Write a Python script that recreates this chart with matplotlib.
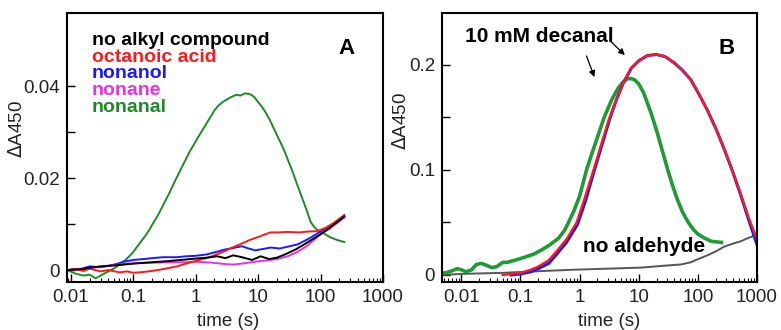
import numpy as np
import matplotlib
matplotlib.use("Agg")
import matplotlib.pyplot as plt
from matplotlib.ticker import LogLocator, NullFormatter, FixedLocator

plt.rcParams["font.family"] = ["Liberation Sans", "DejaVu Sans"]

# ---- panel A data (time in s, dA450) ----
t_green_a = [0.0088, 0.012, 0.016, 0.02, 0.025, 0.03, 0.04, 0.05, 0.056, 0.065, 0.075, 0.085,
             0.097, 0.11, 0.13, 0.155, 0.18, 0.21, 0.25, 0.29, 0.33, 0.39, 0.45, 0.52, 0.6,
             0.7, 0.8, 0.95, 1.1, 1.3, 1.5, 1.75, 2.0, 2.3, 2.7, 3.2, 3.7, 4.5, 5.2, 6.2, 7.5,
             8.7, 10, 11.5, 13, 15.5, 18.5, 21, 24, 27, 30, 35, 40, 45, 50, 55, 60, 65, 70, 80,
             90, 100, 115, 140, 180, 240]
v_green_a = [0.0, -0.0008, -0.0012, -0.0010, -0.0018, -0.0012, -0.0003, 0.0004, 0.0009,
             0.0016, 0.0022, 0.0029, 0.0037, 0.0047, 0.0060, 0.0074, 0.0087, 0.0103, 0.0120,
             0.0137, 0.0152, 0.0171, 0.0190, 0.0207, 0.0224, 0.0242, 0.0258, 0.0275, 0.0290,
             0.0306, 0.0320, 0.0335, 0.0348, 0.0358, 0.0366, 0.0372, 0.0377, 0.0382, 0.0380,
             0.0385, 0.0383, 0.0377, 0.0366, 0.0356, 0.0345, 0.0326, 0.0304, 0.0288, 0.0272,
             0.0256, 0.0240, 0.0217, 0.0195, 0.0176, 0.0159, 0.0144, 0.0130, 0.0116, 0.0104,
             0.0093, 0.0087, 0.0083, 0.0079, 0.0072, 0.0066, 0.0061]

t_red_a = [0.0088, 0.012, 0.016, 0.02, 0.03, 0.04, 0.06, 0.08, 0.1, 0.15, 0.2, 0.3, 0.5, 0.7,
           1.0, 1.5, 2.0, 3.0, 4.0, 5.5, 7.5, 10, 13, 16, 20, 30, 45, 65, 90, 120, 160, 200, 240]
v_red_a = [0.0000, 0.0002, -0.0002, 0.0003, -0.0003, 0.0000, -0.0005, -0.0003, -0.0006, -0.0004,
           -0.0002, 0.0002, 0.0008, 0.0014, 0.0020, 0.0026, 0.0032, 0.0042, 0.0050, 0.0058,
           0.0066, 0.0072, 0.0078, 0.0082, 0.0082, 0.0083, 0.0082, 0.0084, 0.0085, 0.0092,
           0.0102, 0.0112, 0.0120]

t_black_a = [0.0088, 0.015, 0.02, 0.03, 0.05, 0.1, 0.2, 0.4, 0.7, 1.0, 1.5, 2.2, 3.0, 4.0, 5.5,
             8, 11, 15, 20, 28, 40, 55, 76, 100, 140, 190, 240]
v_black_a = [0.0, 0.0002, 0.0005, 0.0008, 0.0010, 0.0014, 0.0017, 0.0020, 0.0023, 0.0025,
             0.0027, 0.0030, 0.0026, 0.0032, 0.0028, 0.0022, 0.0030, 0.0024, 0.0027, 0.0035,
             0.0045, 0.0056, 0.0068, 0.0078, 0.0092, 0.0106, 0.0117]

t_blue_a = [0.0088, 0.015, 0.02, 0.03, 0.05, 0.07, 0.1, 0.15, 0.2, 0.3, 0.5, 0.7, 1.0, 1.5,
            2.2, 3.0, 4.0, 5.5, 7, 9, 12, 16, 22, 30, 43, 60, 76, 100, 140, 190, 240]
v_blue_a = [0.0, 0.0003, 0.0008, 0.0006, 0.0012, 0.0018, 0.0022, 0.0024, 0.0026, 0.0028,
            0.0028, 0.0030, 0.0031, 0.0034, 0.0040, 0.0045, 0.0048, 0.0052, 0.0047, 0.0043,
            0.0046, 0.0049, 0.0047, 0.0051, 0.0056, 0.0066, 0.0074, 0.0084, 0.0096, 0.0108,
            0.0116]

t_mag_a = [0.0088, 0.015, 0.03, 0.06, 0.1, 0.2, 0.4, 0.7, 1.0, 1.5, 2.2, 3, 4, 5.5, 7, 10, 14,
           20, 30, 43, 60, 76, 100, 140, 190, 240]
v_mag_a = [0.0, 0.0002, 0.0007, 0.0012, 0.0015, 0.0016, 0.0017, 0.0017, 0.0018, 0.0017,
           0.0015, 0.0013, 0.0012, 0.0014, 0.0016, 0.0019, 0.0021, 0.0024, 0.0030, 0.0040,
           0.0052, 0.0064, 0.0078, 0.0090, 0.0104, 0.0114]

labels_a = ["no alkyl compound", "octanoic acid", "nonanol", "nonane", "nonanal"]
colors_a = ["black", "#ff1a1a", "#1a1aff", "#e632e6", "#1f8a2a"]

# ---- panel B data ----
t_red_b = [0.05, 0.07, 0.1, 0.15, 0.2, 0.3, 0.4, 0.6, 0.89, 1.2, 1.72, 2.4, 3.2, 4.2, 5.5,
           7.5, 10, 14, 20, 28, 40, 55, 76, 105, 145, 200, 270, 380, 525, 720, 1000]
v_red_b = [0.0, 0.001, 0.002, 0.005, 0.008, 0.014, 0.022, 0.034, 0.05, 0.072, 0.1, 0.127,
           0.15, 0.167, 0.183, 0.197, 0.204, 0.209, 0.21, 0.208, 0.202, 0.195, 0.186, 0.172,
           0.157, 0.140, 0.122, 0.100, 0.078, 0.055, 0.034]

t_blue_b = [0.07, 0.1, 0.15, 0.2, 0.3, 0.4, 0.6, 0.92, 1.25, 1.76, 2.45, 3.25, 4.2, 5.5,
            7.5, 10, 14, 20, 28, 40, 55, 76, 105, 145, 200, 270, 380, 525, 720, 1000]
v_blue_b = [0.0, 0.001, 0.003, 0.006, 0.011, 0.019, 0.031, 0.048, 0.070, 0.099, 0.126,
            0.149, 0.167, 0.183, 0.197, 0.204, 0.209, 0.21, 0.208, 0.202, 0.195, 0.186, 0.172,
            0.157, 0.140, 0.122, 0.100, 0.077, 0.053, 0.029]

t_green_b = [0.0047, 0.0055, 0.007, 0.0085, 0.01, 0.012, 0.015, 0.018, 0.022, 0.027, 0.033,
             0.04, 0.05, 0.06, 0.08, 0.12, 0.17, 0.23, 0.32, 0.44, 0.55, 0.65, 0.8, 1.0, 1.15,
             1.31, 1.6, 2.0, 2.6, 3.5, 4.5, 5.5, 6.5, 7.5, 8.5, 10, 12, 14, 16, 18, 21, 24, 28,
             31, 37, 45, 55, 69, 85, 100, 130, 170, 250]
v_green_b = [0.002, 0.002, 0.004, 0.006, 0.005, 0.003, 0.005, 0.010, 0.011, 0.009, 0.007,
             0.008, 0.012, 0.012, 0.014, 0.017, 0.020, 0.024, 0.029, 0.035, 0.042, 0.05, 0.061,
             0.075, 0.088, 0.1, 0.115, 0.131, 0.15, 0.167, 0.178, 0.184, 0.187, 0.187, 0.186,
             0.182, 0.174, 0.164, 0.155, 0.146, 0.134, 0.122, 0.109, 0.1, 0.086, 0.072, 0.060,
             0.05, 0.043, 0.039, 0.035, 0.032, 0.031]

t_gray_b = [0.0047, 0.01, 0.05, 0.12, 0.3, 0.82, 3, 11, 30, 52, 75, 100, 150, 210, 280, 400,
            530, 700, 960]
v_gray_b = [0.0, 0.001, 0.002, 0.003, 0.004, 0.005, 0.006, 0.007, 0.009, 0.010, 0.012, 0.015,
            0.019, 0.023, 0.027, 0.030, 0.032, 0.035, 0.038]

fig = plt.figure(figsize=(7.81, 3.3), dpi=100)
ax_a = fig.add_axes([0.0858, 0.1455, 0.4046, 0.815])
ax_b = fig.add_axes([0.5659, 0.1455, 0.4033, 0.815])


def style_axis(ax, yticks, ylabels, minor_y):
    ax.set_xscale("log")
    ax.xaxis.set_major_locator(FixedLocator([0.01, 0.1, 1, 10, 100, 1000]))
    ax.set_xticklabels(["0.01", "0.1", "1", "10", "100", "1000"])
    ax.xaxis.set_minor_locator(LogLocator(base=10, subs=np.arange(2, 10), numticks=20))
    ax.xaxis.set_minor_formatter(NullFormatter())
    ax.set_yticks(yticks)
    ax.set_yticklabels(ylabels)
    ax.set_yticks(minor_y, minor=True)
    ax.tick_params(which="both", direction="in", top=False, right=False,
                   labelsize=13.5, colors="black", labelcolor="#222222")
    ax.tick_params(which="major", length=6, width=1.0, pad=5)
    ax.tick_params(axis="x", which="minor", length=3, width=0.8)
    ax.tick_params(axis="y", which="minor", length=6, width=1.0)
    for s in ax.spines.values():
        s.set_linewidth(1.5)
    ax.set_xlabel("time (s)", fontsize=13.5, color="#222222")
    ax.set_ylabel("$\\Delta$A450", fontsize=13.5, color="#222222")


# panel A
series_a = [(t_black_a, v_black_a), (t_red_a, v_red_a), (t_blue_a, v_blue_a),
            (t_mag_a, v_mag_a), (t_green_a, v_green_a)]
order = [4, 2, 3, 1, 0]
for i in order:
    t, v = series_a[i]
    ax_a.plot(t, v, color=colors_a[i], lw=1.4)
ax_a.set_xlim(0.0087, 1000)
ax_a.set_ylim(-0.0026, 0.056)
style_axis(ax_a, [0, 0.02, 0.04], ["0", "0.02", "0.04"], [0.01, 0.03])
ax_a.xaxis.set_label_coords(0.51, -0.115)
ax_a.yaxis.set_label_coords(-0.13, 0.57)

# stacked coloured labels (tightly spaced, as in the figure)
ys = [0.882, 0.818, 0.760, 0.697, 0.633]
for lab, c, y in zip(labels_a, colors_a, ys):
    ax_a.text(0.079, y, lab, color=c, fontsize=14, fontweight="bold",
              transform=ax_a.transAxes, va="baseline", ha="left")
ax_a.text(0.886, 0.848, "A", fontsize=16, fontweight="bold", transform=ax_a.transAxes,
          va="baseline", ha="center")

# panel B
ax_b.plot(t_gray_b, v_gray_b, color="#555555", lw=1.4)
ax_b.plot(t_green_b, v_green_b, color="#1f9a35", lw=2.6)
ax_b.plot(t_blue_b, v_blue_b, color="#1a1aff", lw=2.2)
ax_b.plot(t_red_b, v_red_b, color="#ff1a1a", lw=1.7)
ax_b.set_xlim(0.0047, 1000)
ax_b.set_ylim(-0.0067, 0.2495)
style_axis(ax_b, [0, 0.1, 0.2], ["0", "0.1", "0.2"], [0.05, 0.15])
ax_b.xaxis.set_label_coords(0.53, -0.115)
ax_b.yaxis.set_label_coords(-0.10, 0.60)

ax_b.text(0.073, 0.892, "10 mM decanal", fontsize=15, fontweight="bold",
          transform=ax_b.transAxes, va="baseline", ha="left")
ax_b.text(0.905, 0.848, "B", fontsize=16, fontweight="bold", transform=ax_b.transAxes,
          va="baseline", ha="center")
ax_b.text(0.448, 0.112, "no aldehyde", fontsize=15, fontweight="bold",
          transform=ax_b.transAxes, va="baseline", ha="left")
arrow = dict(arrowstyle="-|>", color="black", lw=0.9, mutation_scale=9)
ax_b.annotate("", xy=(6.3, 0.2076), xytext=(3.16, 0.224), arrowprops=arrow)
ax_b.annotate("", xy=(1.85, 0.186), xytext=(1.26, 0.211), arrowprops=arrow)

fig.savefig("out.png", dpi=100)
